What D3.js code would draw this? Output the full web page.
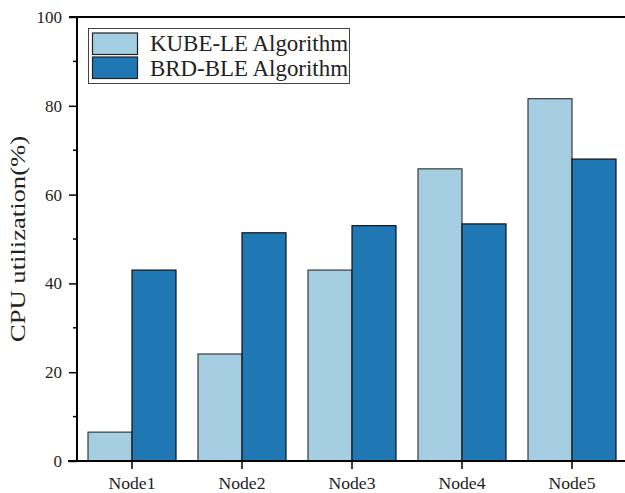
<!DOCTYPE html>
<html><head><meta charset="utf-8">
<script src="https://cdn.jsdelivr.net/npm/d3@7"></script>
<style>body{margin:0;background:#fff}svg{display:block}</style>
</head><body>
<svg id="c" width="625" height="493"></svg>
<script>
const categories = ["Node1","Node2","Node3","Node4","Node5"];
const seriesNames = ["KUBE-LE Algorithm","BRD-BLE Algorithm"];
const kubeLE = [6.5, 24.1, 43.0, 65.8, 81.6];
const brdBLE = [43.0, 51.4, 53.0, 53.4, 68.0];
const yTicks = [0,20,40,60,80,100];
const colors = ["#a6cee3","#1f78b4"];

const svg = d3.select("#c");
const L = 77, R = 627, T = 17, B = 461;
const font = "'Liberation Serif', 'DejaVu Serif', serif";

const x = d3.scaleBand().domain(categories).range([L,R]).paddingInner(0.2).paddingOuter(0.1);
const xc = d3.scaleBand().domain(categories).range([L,R]);
const xs = d3.scaleBand().domain([0,1]).range([0, x.bandwidth()]);
const y = d3.scaleLinear().domain([0,100]).range([B,T]);

const data = categories.map((c,i)=>({c, v:[kubeLE[i], brdBLE[i]]}));

// bars
const g = svg.append("g");
data.forEach(d=>{
  d.v.forEach((v,j)=>{
    g.append("rect")
      .attr("x", xc(d.c) + xc.bandwidth()/2 - x.bandwidth()/2 + xs(j))
      .attr("y", y(v))
      .attr("width", xs.bandwidth())
      .attr("height", B - y(v))
      .attr("fill", colors[j])
      .attr("stroke", j===0 ? "#3a3a3a" : "#111")
      .attr("stroke-width", 1.2);
  });
});

// y axis
const yAxis = svg.append("g").attr("transform",`translate(${L},0)`)
  .call(d3.axisLeft(y).tickValues(yTicks).tickSize(8).tickPadding(7).tickFormat(d3.format("d")));
yAxis.select(".domain").remove();
yAxis.selectAll("line").attr("stroke","#000").attr("stroke-width",1.5);
yAxis.selectAll("text").attr("font-family",font).attr("font-size",17).attr("fill","#222");
// minor ticks
svg.append("g").selectAll("line").data([10,30,50,70,90]).join("line")
  .attr("x1",L-4).attr("x2",L).attr("y1",d=>y(d)).attr("y2",d=>y(d))
  .attr("stroke","#000").attr("stroke-width",1.5);

// x axis
const xAxis = svg.append("g").attr("transform",`translate(0,${B})`)
  .call(d3.axisBottom(xc).tickSize(8).tickPadding(8));
xAxis.select(".domain").remove();
xAxis.selectAll("line").attr("stroke","#000").attr("stroke-width",1.5);
xAxis.selectAll("text").attr("font-family",font).attr("font-size",17).attr("fill","#222")
  .attr("textLength",47).attr("lengthAdjust","spacingAndGlyphs");

// frame lines
svg.append("line").attr("x1",68).attr("x2",R).attr("y1",B).attr("y2",B).attr("stroke","#000").attr("stroke-width",2);
svg.append("line").attr("x1",L).attr("x2",L).attr("y1",T).attr("y2",B).attr("stroke","#000").attr("stroke-width",2);
svg.append("line").attr("x1",L-8).attr("x2",R).attr("y1",T).attr("y2",T).attr("stroke","#000").attr("stroke-width",2);

// y label
svg.append("text").attr("transform",`translate(25,${(T+B)/2}) rotate(-90)`)
  .attr("text-anchor","middle").attr("font-family",font).attr("font-size",21).attr("fill","#222")
  .attr("textLength",206).attr("lengthAdjust","spacingAndGlyphs")
  .text("CPU utilization(%)");

// legend
const lg = svg.append("g");
lg.append("rect").attr("x",88.5).attr("y",28.5).attr("width",261).attr("height",55)
  .attr("fill","#fff").attr("stroke","#444").attr("stroke-width",1);
seriesNames.forEach((n,i)=>{
  lg.append("rect").attr("x",92.5).attr("y",33 + i*24).attr("width",45).attr("height",21.5)
    .attr("fill",colors[i]).attr("stroke","#222").attr("stroke-width",1.2);
  lg.append("text").attr("x",150).attr("y",51 + i*25)
    .attr("font-family",font).attr("font-size",24).attr("fill","#222")
    .attr("textLength",198).attr("lengthAdjust","spacingAndGlyphs").text(n);
});
</script>
</body></html>
